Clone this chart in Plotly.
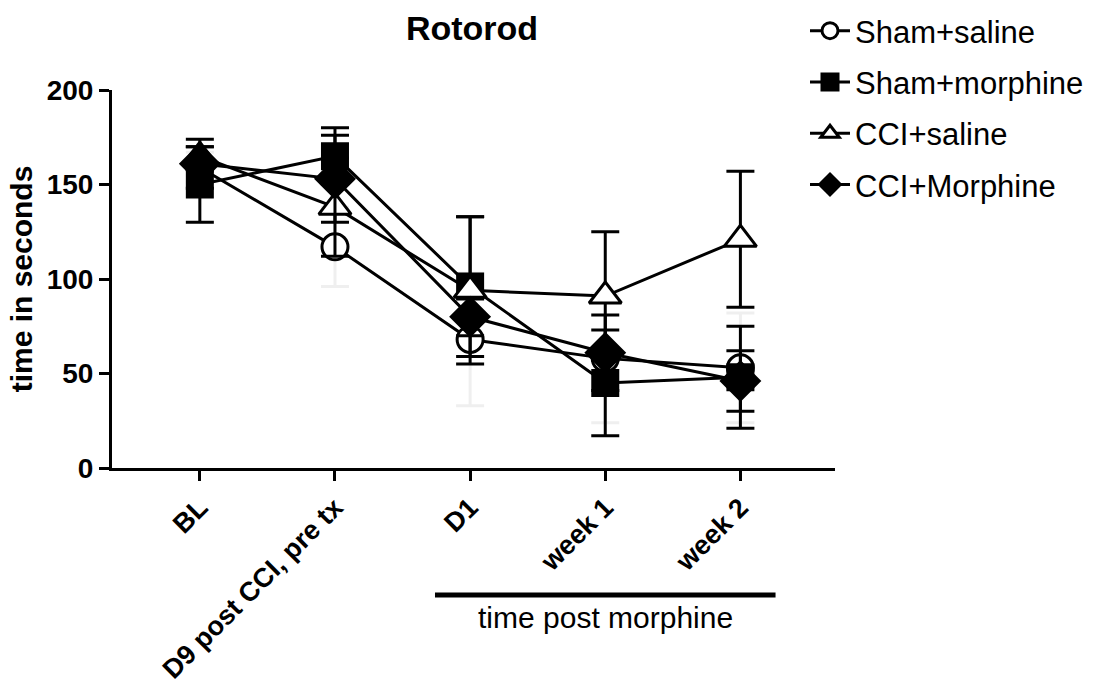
import plotly.graph_objects as go

categories = ["BL", "D9 post CCI, pre tx", "D1", "week 1", "week 2"]

sham_saline = [159, 117, 68, 58, 53]
sham_saline_sem = [8, 21, 35, 34, 29]
sham_morphine = [150, 165, 96, 45, 48]
sham_morphine_sem = [20, 15, 37, 28, 27]
cci_saline = [165, 138, 94, 91, 121]
cci_saline_sem = [5, 26, 39, 34, 36]
cci_morphine = [161, 153, 80, 61, 46]
cci_morphine_sem = [13, 23, 10, 20, 16]

FONT = "Liberation Sans, Arial, sans-serif"

series = [
    ("Sham+saline", sham_saline, sham_saline_sem, "circle", "white", 26, "#efefef"),
    ("Sham+morphine", sham_morphine, sham_morphine_sem, "square", "black", 25, "black"),
    ("CCI+saline", cci_saline, cci_saline_sem, "triangle-up", "white", 28, "black"),
    ("CCI+Morphine", cci_morphine, cci_morphine_sem, "diamond", "black", 29, "black"),
]

fig = go.Figure()
for i, (name, vals, sem, sym, fill, size, ecol) in enumerate(series):
    fig.add_trace(go.Scatter(
        x=categories, y=vals, name=name, mode="lines+markers",
        legendgroup=name,
        line=dict(color="black", width=3),
        marker=dict(symbol=sym, size=size, color=fill,
                    line=dict(color="black", width=3)),
        error_y=dict(type="data", array=sem, visible=True,
                     color=ecol, thickness=3, width=14),
    ))

fig.update_layout(
    width=1100, height=688,
    paper_bgcolor="white", plot_bgcolor="white",
    margin=dict(l=112, r=265, t=90, b=220, autoexpand=False),
    font=dict(family=FONT, color="black"),
    title=dict(text="Rotorod", x=472/1100, xanchor="center",
               y=1 - 28/688, yanchor="middle",
               font=dict(size=34, family=FONT, color="black", weight="bold")),
    showlegend=True,
    legend=dict(x=805/1100, xanchor="left", y=1 - 4/688, yanchor="top",
                xref="container", yref="container",
                font=dict(size=31, family=FONT, color="black"),
                tracegroupgap=8, itemwidth=40, bgcolor="rgba(0,0,0,0)"),
)

fig.update_xaxes(
    type="category", range=[-0.65, 4.7],
    showline=True, linecolor="black", linewidth=3,
    ticks="outside", ticklen=10, tickwidth=3, tickcolor="black",
    tickangle=-45, showgrid=False, zeroline=False,
    tickfont=dict(size=27, family=FONT, color="black", weight="bold"),
)
fig.update_yaxes(
    range=[0, 200], tickvals=[0, 50, 100, 150, 200],
    showline=True, linecolor="black", linewidth=3,
    ticks="outside", ticklen=10, tickwidth=3, tickcolor="black",
    showgrid=False, zeroline=False,
    tickfont=dict(size=28, family=FONT, color="black", weight="bold"),
    title=dict(text="time in seconds",
               font=dict(size=30, family=FONT, color="black", weight="bold"),
               standoff=6),
)

fig.add_shape(type="line", xref="x", yref="paper",
              x0=1.74, x1=4.26, y0=-127/378, y1=-127/378,
              line=dict(color="black", width=5))
fig.add_annotation(text="time post morphine", xref="x", yref="paper",
                   x=3.0, y=-149/378, yanchor="middle", showarrow=False,
                   font=dict(size=30, family=FONT, color="black"))

fig.write_html("out.html")
